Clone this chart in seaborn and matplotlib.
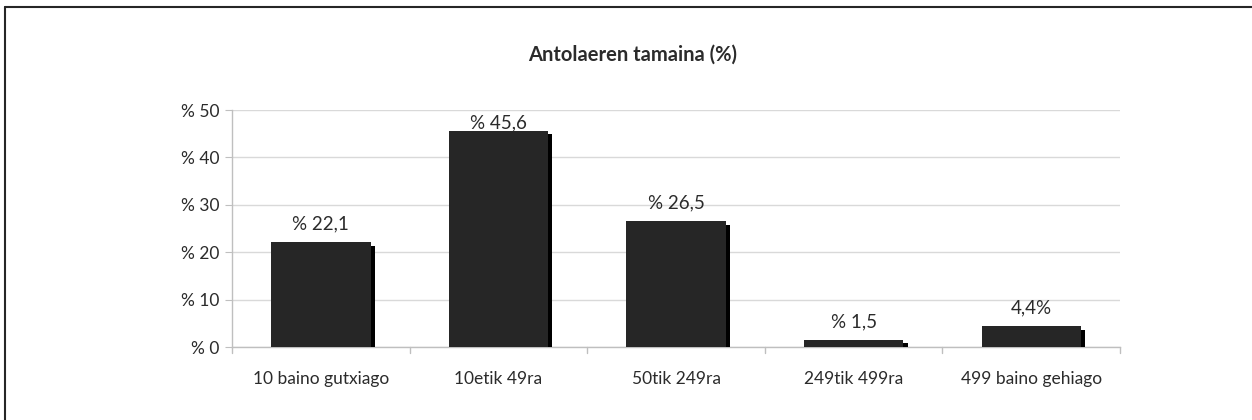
import matplotlib
matplotlib.use("Agg")
import matplotlib.pyplot as plt
import matplotlib.patheffects as pe
from matplotlib.lines import Line2D
import seaborn as sns
import pandas as pd

# chart data
categories = ["10 baino gutxiago", "10etik 49ra", "50tik 249ra",
              "249tik 499ra", "499 baino gehiago"]
values = [22.1, 45.6, 26.5, 1.5, 4.4]
value_labels = ["% 22,1", "% 45,6", "% 26,5", "% 1,5", "4,4%"]
y_ticks = [0, 10, 20, 30, 40, 50]
y_tick_labels = ["% 0", "% 10", "% 20", "% 30", "% 40", "% 50"]
title = "Antolaeren tamaina (%)"

df = pd.DataFrame({"category": categories, "value": values})

sns.set_style("white")
plt.rcParams["font.family"] = ["Lato", "DejaVu Sans"]
plt.rcParams["text.color"] = "#2b2b2b"

fig = plt.figure(figsize=(12.52, 4.2), dpi=100)
ax = fig.add_axes([0.1853, 0.1738, 0.7093, 0.5642])

sns.barplot(data=df, x="category", y="value", color="#262626",
            saturation=1, width=0.56, linewidth=0, edgecolor="#262626",
            ax=ax, zorder=3)

# 3D-ish shadow on each bar
for p in ax.patches:
    p.set_path_effects([
        pe.SimplePatchShadow(offset=(3, -2.5), shadow_rgbFace="black", alpha=1.0),
        pe.Normal(),
    ])

# value labels
offsets = [7, 0, 7, 7, 7]
for i, (v, lab) in enumerate(zip(values, value_labels)):
    ax.annotate(lab, (i, v), xytext=(0, offsets[i]), textcoords="offset points",
                ha="center", va="bottom", fontsize=13.5, color="#2b2b2b")

ax.set_ylim(0, 50)
ax.set_xlim(-0.5, len(categories) - 0.5)
ax.set_yticks(y_ticks)
ax.set_yticklabels(y_tick_labels)
ax.set_xlabel("")
ax.set_ylabel("")
ax.grid(axis="y", color="#d9d9d9", linewidth=1, zorder=0)
ax.set_axisbelow(True)

for s in ["top", "right"]:
    ax.spines[s].set_visible(False)
for s in ["left", "bottom"]:
    ax.spines[s].set_color("#bfbfbf")
    ax.spines[s].set_linewidth(1)

ax.tick_params(axis="y", length=5, color="#bfbfbf", labelsize=12.5,
               labelcolor="#2b2b2b", pad=4, left=True)
ax.tick_params(axis="x", length=0, labelsize=12.5, labelcolor="#2b2b2b", pad=17)

# tick marks between categories on the x axis
for b in [i - 0.5 for i in range(len(categories) + 1)]:
    ax.add_line(Line2D([b, b], [0, -1.2], color="#bfbfbf", linewidth=1,
                       clip_on=False))

fig.text(0.505, 0.869, title, ha="center", va="center", fontsize=14.5,
         fontweight="bold", color="#2b2b2b")

# frame (top and left edges only visible)
fig.add_artist(Line2D([5 / 1252, 5 / 1252], [0, 1 - 7 / 420],
                      transform=fig.transFigure, color="#262626", linewidth=1.5))
fig.add_artist(Line2D([5 / 1252, 1], [1 - 7 / 420, 1 - 7 / 420],
                      transform=fig.transFigure, color="#262626", linewidth=1.5))

fig.savefig("out.png", dpi=100)
